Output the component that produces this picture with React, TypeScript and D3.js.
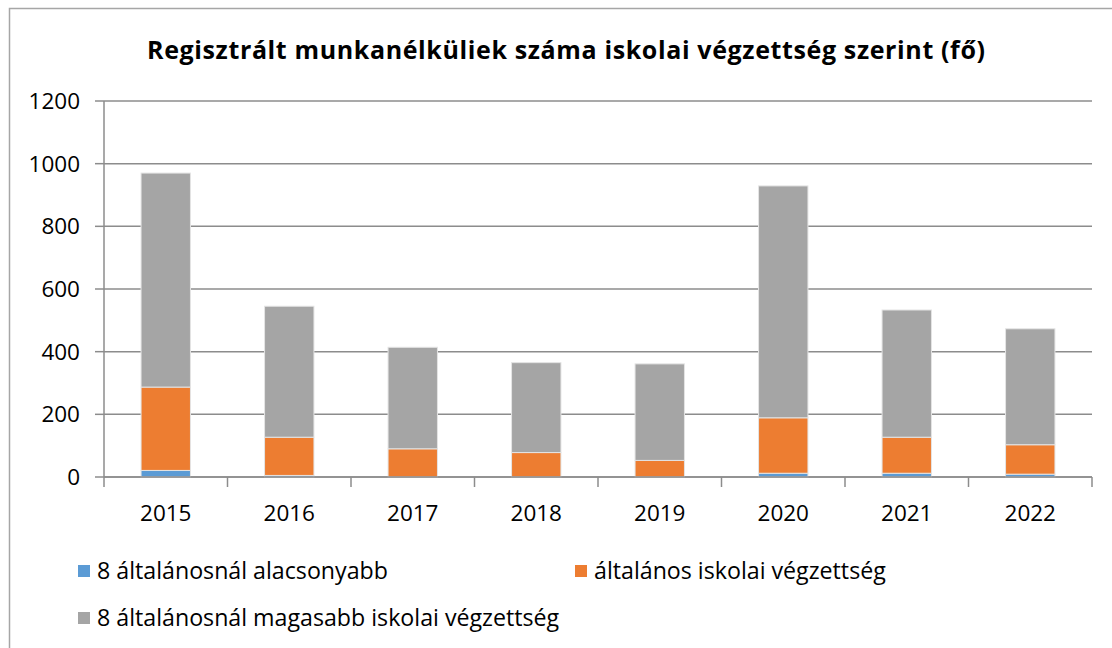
import React from "react";
import * as d3 from "d3";

const years = ["2015", "2016", "2017", "2018", "2019", "2020", "2021", "2022"];
const lower = [21, 5, 0, 0, 0, 12, 12, 9];
const primary = [266, 122, 90, 78, 53, 177, 115, 94];
const higher = [683, 418, 324, 287, 308, 740, 406, 370];
const seriesNames = [
  "8 általánosnál alacsonyabb",
  "általános iskolai végzettség",
  "8 általánosnál magasabb iskolai végzettség",
];
const seriesColors = ["#5b9bd5", "#ed7d31", "#a5a5a5"];
const yTicks = [0, 200, 400, 600, 800, 1000, 1200];
const title = "Regisztrált munkanélküliek száma iskolai végzettség szerint (fő)";

const W = 1112;
const H = 648;
const plot = { left: 104, right: 1092, top: 101, bottom: 477 };
const FONT = "'Open Sans', Lato, sans-serif";

export default function App() {
  const x = d3
    .scaleBand<string>()
    .domain(years)
    .range([plot.left, plot.right])
    .paddingInner(0.6)
    .paddingOuter(0.3);
  const xOuter = d3.scaleBand<string>().domain(years).range([plot.left, plot.right]);
  const y = d3.scaleLinear().domain([0, 1200]).range([plot.bottom, plot.top]);

  const table = years.map((yr, i) => ({ year: yr, a: lower[i], b: primary[i], c: higher[i] }));
  const stacked = d3.stack<any>().keys(["a", "b", "c"])(table);

  const axisColor = "#8c8c8c";
  const boundaries = years.map((yr) => xOuter(yr) as number).concat([plot.right]);

  return (
    <svg
      width={W}
      height={H}
      style={{ position: "absolute", left: 0, top: 0, background: "#fff" }}
      fontFamily={FONT}
    >
      <rect x={0} y={0} width={W} height={H} fill="#fff" />
      <rect x={9.5} y={8.5} width={W + 40} height={H + 40} fill="none" stroke="#a6a6a6" strokeWidth={1.5} />
      <text
        x={566}
        y={59}
        textAnchor="middle"
        fontSize={25}
        fontWeight="bold"
        fill="#000"
        textLength={838}
        lengthAdjust="spacing"
      >
        {title}
      </text>
      {/* gridlines */}
      {yTicks.map((t) => (
        <line key={t} x1={plot.left} x2={plot.right} y1={y(t)} y2={y(t)} stroke={axisColor} strokeWidth={1.5} />
      ))}
      {/* y axis */}
      <line x1={plot.left} x2={plot.left} y1={plot.top} y2={plot.bottom} stroke={axisColor} strokeWidth={1.5} />
      {yTicks.map((t) => (
        <g key={"yt" + t}>
          <line x1={plot.left - 9} x2={plot.left} y1={y(t)} y2={y(t)} stroke={axisColor} strokeWidth={1.5} />
          <text x={80} y={y(t)} dy="0.35em" textAnchor="end" fontSize={22.5} fill="#000">
            {t}
          </text>
        </g>
      ))}
      {/* bars */}
      {stacked.map((s, si) => (
        <g key={si} fill={seriesColors[si]}>
          {s.map((d, i) =>
            d[1] - d[0] > 0 ? (
              <rect
                key={i}
                x={x(years[i])}
                width={x.bandwidth()}
                y={y(d[1])}
                height={y(d[0]) - y(d[1])}
                stroke="#e4e4e4"
                strokeWidth={1}
              />
            ) : null
          )}
        </g>
      ))}
      {/* x axis */}
      <line x1={plot.left} x2={plot.right} y1={plot.bottom} y2={plot.bottom} stroke={axisColor} strokeWidth={1.5} />
      {boundaries.map((bx, i) => (
        <line key={"xt" + i} x1={bx} x2={bx} y1={plot.bottom} y2={plot.bottom + 10} stroke={axisColor} strokeWidth={1.5} />
      ))}
      {years.map((yr) => (
        <text
          key={"xl" + yr}
          x={(xOuter(yr) as number) + xOuter.bandwidth() / 2}
          y={521}
          textAnchor="middle"
          fontSize={22.5}
          fill="#000"
        >
          {yr}
        </text>
      ))}
      {/* legend */}
      {[
        { x: 78, y: 571 },
        { x: 575, y: 571 },
        { x: 78, y: 618 },
      ].map((p, i) => (
        <g key={"lg" + i}>
          <rect x={p.x} y={p.y - 6} width={12} height={12} fill={seriesColors[i]} />
          <text x={p.x + 19} y={p.y} dy="0.35em" fontSize={23.2} fill="#000">
            {seriesNames[i]}
          </text>
        </g>
      ))}
    </svg>
  );
}
